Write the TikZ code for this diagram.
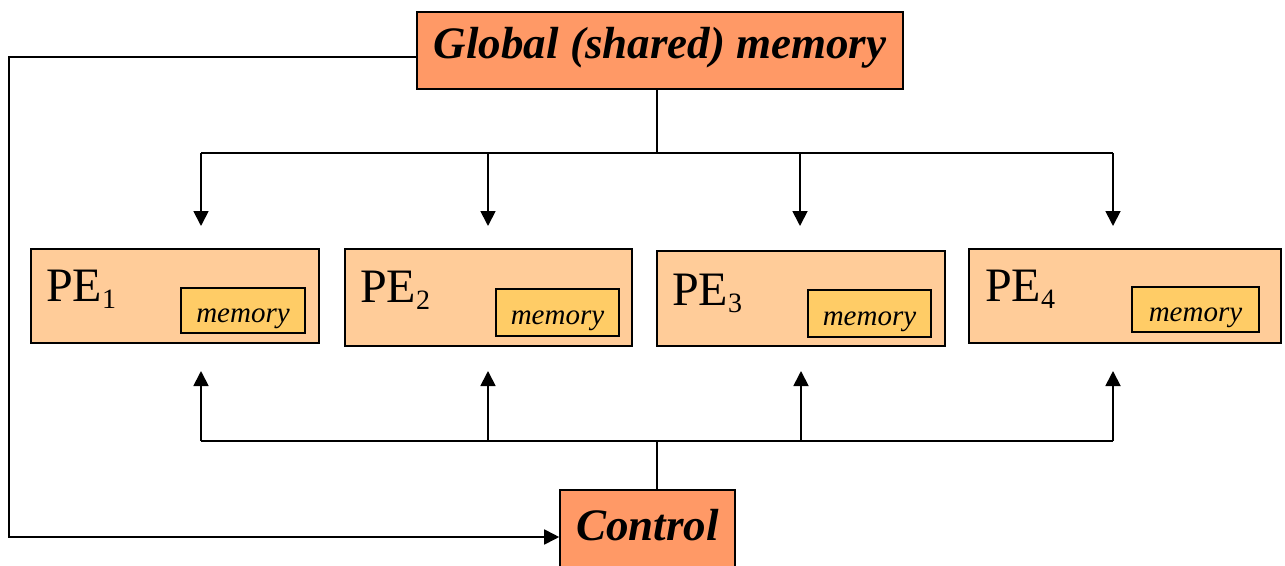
\documentclass[tikz,border=0pt]{standalone}
\usepackage{fontspec}
\setmainfont{Liberation Serif}
\usetikzlibrary{arrows.meta}
\definecolor{salmon}{HTML}{FF9966}
\definecolor{peach}{HTML}{FFCC99}
\definecolor{gold}{HTML}{FFCC66}
\newcommand{\pesub}[1]{\raisebox{-0.16em}{\fontsize{28}{28}\selectfont #1}}
\begin{document}
\begin{tikzpicture}[x=1pt,y=-1pt,
  box/.style={draw=black, line width=1.6pt, inner sep=0pt},
  headbox/.style={box, fill=salmon, font=\fontsize{45}{45}\selectfont\bfseries\itshape},
  pebox/.style={box, fill=peach},
  membox/.style={box, fill=gold, text height=30pt, text depth=7pt,
    font=\fontsize{29}{29}\selectfont\itshape},
  pelabel/.style={anchor=base west, inner sep=0pt, font=\fontsize{48}{48}\selectfont},
  link/.style={line width=1.8pt},
  arr/.style={link, -{Triangle[width=15pt,length=15pt]}}
]
\useasboundingbox (0,0) rectangle (1285,565);

% global memory and control units
\node[headbox, anchor=north, minimum width=486pt, text height=47pt, text depth=30pt] (gm) at (660,11) {Global (shared) memory};
\node[headbox, anchor=north, minimum width=175pt, text height=32pt, text depth=40pt, inner ysep=19pt] (ctrl) at (647.5,489) {Control};

% processing elements
\node[pebox, minimum width=288pt, minimum height=94pt] (pe1) at (175,296) {};
\node[pebox, minimum width=287pt, minimum height=97pt] (pe2) at (488.5,297.5) {};
\node[pebox, minimum width=288pt, minimum height=95pt] (pe3) at (801,298.5) {};
\node[pebox, minimum width=312pt, minimum height=94pt] (pe4) at (1125,296) {};

\node[pelabel] (l1) at (46,301) {PE\pesub{1}};
\node[pelabel] (l2) at (360,302) {PE\pesub{2}};
\node[pelabel] (l3) at (672,305) {PE\pesub{3}};
\node[pelabel] (l4) at (985,301) {PE\pesub{4}};

\node[membox, minimum width=124pt, minimum height=45pt] (m1) at (243,310.5) {memory};
\node[membox, minimum width=123pt, minimum height=47pt] (m2) at (557.5,312.5) {memory};
\node[membox, minimum width=123pt, minimum height=47pt] (m3) at (869.5,313.5) {memory};
\node[membox, minimum width=127pt, minimum height=45pt] (m4) at (1195.5,309.5) {memory};

% distribution bus from global memory
\coordinate (tj) at (657,153);
\coordinate (t1) at (201,153);
\coordinate (t4) at (1113,153);
\draw[link] (gm.south -| tj) -- (tj);
\draw[link] (t1) -- (t4);
\draw[arr] (t1) -- (201,226);
\draw[arr] (488,153) -- (488,226);
\draw[arr] (800,153) -- (800,226);
\draw[arr] (t4) -- (1113,226);

% control bus
\coordinate (bj) at (657,441);
\coordinate (b1) at (201,441);
\coordinate (b4) at (1113,441);
\draw[link] (ctrl.north -| bj) -- (bj);
\draw[link] (b1) -- (b4);
\draw[arr] (b1) -- (201,371);
\draw[arr] (488,441) -- (488,371);
\draw[arr] (801,441) -- (801,371);
\draw[arr] (b4) -- (1113,371);

% feedback from global memory to control
\coordinate (lp) at (9,57);
\coordinate (lb) at (9,537);
\draw[arr] (gm.west |- lp) -- (lp) -- (lb) -- (ctrl.west |- lb);
\end{tikzpicture}
\end{document}
